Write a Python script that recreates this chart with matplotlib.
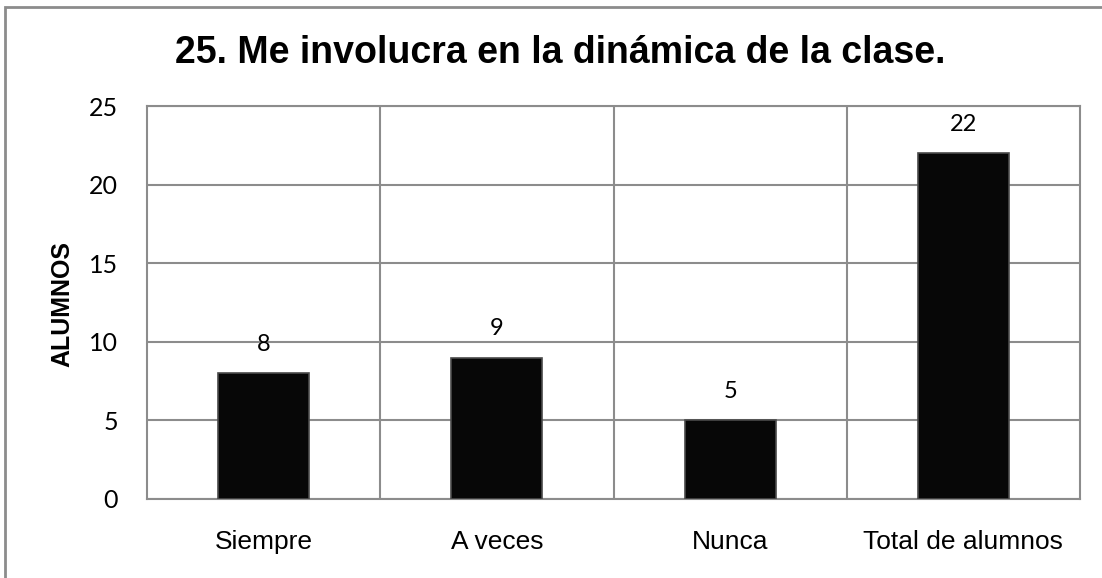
import matplotlib.pyplot as plt
from matplotlib.patches import Rectangle

categorias = ['Siempre', 'A veces', 'Nunca', 'Total de alumnos']
alumnos = [8, 9, 5, 22]
ticks_y = [0, 5, 10, 15, 20, 25]

fig = plt.figure(figsize=(11.02, 5.78), dpi=100)
ax = fig.add_axes([147 / 1102, 1 - 499 / 578, 933 / 1102, 393 / 578])

# marco gris de la figura
fig.patches.append(Rectangle((5 / 1102, -0.1), 1.2, 1 - 7 / 578 + 0.1,
                             transform=fig.transFigure, fill=False,
                             edgecolor='#8c8c8c', linewidth=2))

pos = range(len(categorias))
ax.bar(pos, alumnos, width=0.39, color='#070707', edgecolor='#4a4a4a',
       linewidth=1.2, zorder=3)

for x, v in zip(pos, alumnos):
    ax.text(x, v + 1.85, str(v), ha='center', va='center',
            fontsize=17, family='Lato')

ax.set_xlim(-0.5, len(categorias) - 0.5)
ax.set_ylim(0, 25)
ax.set_yticks(ticks_y)
ax.set_yticklabels([str(t) for t in ticks_y], fontsize=18, family='Lato')
ax.set_xticks(list(pos))
ax.set_xticklabels(categorias, fontsize=19, family='Liberation Sans')
ax.set_xticks([0.5, 1.5, 2.5], minor=True)
ax.tick_params(axis='both', which='both', length=0)
ax.tick_params(axis='y', pad=21)
ax.tick_params(axis='x', pad=22)

ax.grid(axis='y', color='#8c8c8c', linewidth=1.5, zorder=0)
ax.grid(axis='x', which='minor', color='#8c8c8c', linewidth=1.5, zorder=0)
for s in ax.spines.values():
    s.set_color('#8c8c8c')
    s.set_linewidth(1.5)

fig.text(62 / 1102, 1 - 304 / 578, 'ALUMNOS', rotation=90, ha='center',
         va='center', fontsize=18, fontweight='bold', family='Liberation Sans')
fig.text(560 / 1102, 1 - 53 / 578, '25. Me involucra en la dinámica de la clase.',
         ha='center', va='center', fontsize=27, fontweight='bold',
         family='Liberation Sans')

fig.savefig('out.png', dpi=100)
